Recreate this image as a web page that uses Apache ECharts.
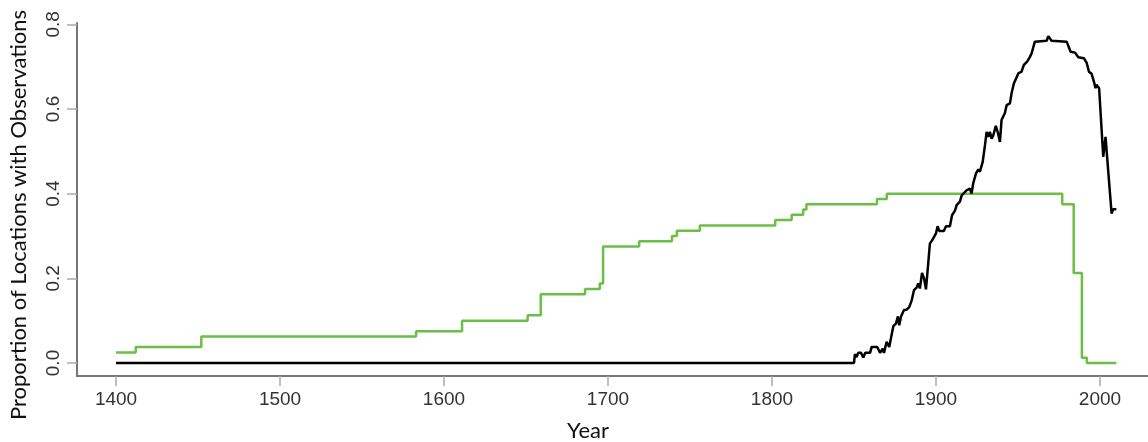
<!DOCTYPE html>
<html>
<head>
<meta charset="utf-8">
<script src="https://cdn.jsdelivr.net/npm/echarts@6/dist/echarts.min.js"></script>
<style>
html,body{margin:0;padding:0;background:#fff;}
#chart{width:1148px;height:442px;}
</style>
</head>
<body>
<div id="chart"></div>
<script>
// green series: year where a new level starts, and that level
var greenYears = [1400, 1412, 1452, 1583, 1611, 1651, 1659, 1686, 1695, 1697, 1719, 1739, 1742, 1756, 1802, 1812, 1819, 1821, 1864, 1870, 1977, 1984, 1989, 1992, 2010];
var greenValues = [0.025, 0.0375, 0.0625, 0.075, 0.1, 0.1125, 0.1625, 0.175, 0.1875, 0.275, 0.2875, 0.3, 0.3125, 0.325, 0.3375, 0.35, 0.3625, 0.375, 0.3875, 0.4, 0.375, 0.2125, 0.0125, 0, 0];

// black series
var blackYears = [1400, 1850, 1850.6, 1851.6, 1852.6, 1854.3, 1855.7, 1856.9, 1859.8, 1860.8, 1864.2, 1865.9, 1867.5, 1868.3, 1869.9, 1871.5, 1872.6, 1874, 1875.6, 1876.8, 1877.6, 1878.7, 1880.5, 1882.1, 1883.7, 1885.2, 1886.6, 1888.2, 1889.2, 1890.2, 1891.5, 1892.7, 1893.9, 1895.1, 1896.3, 1898, 1900, 1901, 1902, 1904.8, 1906.1, 1908.5, 1909.8, 1911.6, 1912.6, 1913.6, 1914.6, 1915.7, 1918.7, 1920.7, 1921.7, 1922.7, 1924.4, 1925.8, 1926.8, 1928.5, 1929.9, 1930.9, 1931.9, 1932.9, 1933.9, 1934.9, 1936.5, 1937.9, 1939, 1940, 1941, 1942, 1943.1, 1945.1, 1946.1, 1947.5, 1950.2, 1952.2, 1953.6, 1955.6, 1957.3, 1958.3, 1960.3, 1967.5, 1968.5, 1969.5, 1970.5, 1979.7, 1982.1, 1984.8, 1986.8, 1990.2, 1991.9, 1993.3, 1994.9, 1996.5, 1997.3, 1997.9, 1999.5, 2002, 2003.4, 2004, 2007.1, 2008, 2010];
var blackValues = [0, 0, 0.021, 0.014, 0.024, 0.024, 0.013, 0.024, 0.024, 0.038, 0.038, 0.024, 0.034, 0.024, 0.05, 0.038, 0.042, 0.087, 0.093, 0.11, 0.089, 0.11, 0.125, 0.126, 0.132, 0.148, 0.172, 0.178, 0.188, 0.176, 0.213, 0.2, 0.174, 0.227, 0.282, 0.292, 0.306, 0.323, 0.312, 0.312, 0.323, 0.323, 0.349, 0.36, 0.373, 0.377, 0.381, 0.396, 0.408, 0.412, 0.4, 0.424, 0.448, 0.457, 0.452, 0.475, 0.515, 0.546, 0.534, 0.546, 0.53, 0.537, 0.56, 0.542, 0.522, 0.574, 0.582, 0.59, 0.609, 0.613, 0.637, 0.66, 0.684, 0.688, 0.704, 0.712, 0.723, 0.731, 0.759, 0.761, 0.772, 0.772, 0.761, 0.759, 0.735, 0.733, 0.722, 0.72, 0.709, 0.688, 0.683, 0.662, 0.649, 0.657, 0.649, 0.487, 0.534, 0.536, 0.353, 0.363, 0.363];

var xTicks = [1400, 1500, 1600, 1700, 1800, 1900, 2000];
var yTicks = [0, 0.2, 0.4, 0.6, 0.8];

function zipXY(xs, ys){
	var out = [];
	for (var i = 0; i < xs.length; i++) {
		out.push([xs[i], ys[i]]);
	}
	return out;
}

var myChart = echarts.init(document.getElementById('chart'));  //初始化

var option = {
	animation: false,
	grid: {
		left: 77,
		right: 0,
		top: 23,
		bottom: 66
	},
	xAxis: {
		type: 'value',
		min: 1376.2,
		max: 2029.3,
		splitLine: { show: false },
		axisLine: {
			onZero: false,
			lineStyle: { color: '#777', width: 2 }
		},
		axisTick: {
			customValues: xTicks,
			length: 10,
			lineStyle: { color: '#aaa', width: 1.5 }
		},
		axisLabel: {
			customValues: xTicks,
			margin: 14,
			color: '#333',
			fontSize: 19,
			fontFamily: 'Liberation Sans',
			formatter: function (v) { return String(v); }
		}
	},
	yAxis: {
		type: 'value',
		min: -0.0307,
		max: 0.803,
		splitLine: { show: false },
		axisLine: {
			show: true,
			onZero: false,
			lineStyle: { color: '#777', width: 2 }
		},
		axisTick: {
			show: true,
			customValues: yTicks,
			length: 10,
			lineStyle: { color: '#aaa', width: 1.5 }
		},
		axisLabel: {
			customValues: yTicks,
			rotate: 90,
			margin: 14,
			color: '#333',
			fontSize: 19,
			fontFamily: 'Liberation Sans',
			formatter: function (v) { return v.toFixed(1); }
		}
	},
	graphic: [{
		type: 'text',
		x: 588,
		y: 431,
		style: {
			text: 'Year',
			fill: '#111',
			font: '22px Lato',
			textAlign: 'center',
			textVerticalAlign: 'middle'
		}
	}, {
		type: 'text',
		x: 19,
		y: 215,
		rotation: Math.PI / 2,
		style: {
			text: 'Proportion of Locations with Observations',
			fill: '#111',
			font: '22px Lato',
			textAlign: 'center',
			textVerticalAlign: 'middle'
		}
	}],
	series: [{
		name: 'green',
		type: 'line',
		step: 'end',
		symbol: 'none',
		lineStyle: { color: '#6cbf45', width: 2.5 },
		data: zipXY(greenYears, greenValues)
	}, {
		name: 'black',
		type: 'line',
		symbol: 'none',
		lineStyle: { color: '#000', width: 2.5 },
		data: zipXY(blackYears, blackValues)
	}]
};
myChart.setOption(option);
</script>
</body>
</html>
